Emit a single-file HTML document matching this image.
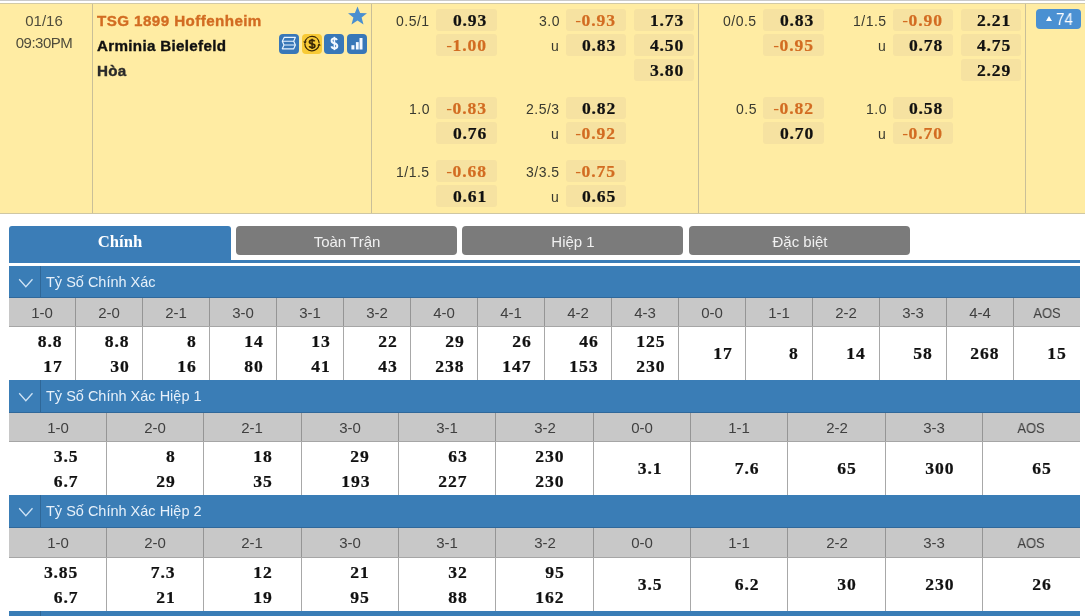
<!DOCTYPE html>
<html><head><meta charset="utf-8"><style>
html,body{margin:0;padding:0;}
body{width:1085px;height:616px;overflow:hidden;position:relative;background:#fff;font-family:"Liberation Sans", sans-serif;}
body>div,body>svg{position:absolute;white-space:nowrap;}
body>div{will-change:transform;}
</style></head><body>
<div style="left:0px;top:0px;width:1085px;height:1px;background:#c9c9c9;"></div>
<div style="left:0px;top:1px;width:1085px;height:2px;background:#ffffff;"></div>
<div style="left:0px;top:3px;width:1085px;height:1px;background:#d2caa6;"></div>
<div style="left:0px;top:4px;width:1085px;height:209px;background:#ffeca3;"></div>
<div style="left:0px;top:213px;width:1085px;height:1px;background:#cfc7a3;"></div>
<div style="left:92px;top:4px;width:1px;height:209px;background:#c9bf98;"></div>
<div style="left:371px;top:4px;width:1px;height:209px;background:#c9bf98;"></div>
<div style="left:698px;top:4px;width:1px;height:209px;background:#c9bf98;"></div>
<div style="left:1025px;top:4px;width:1px;height:209px;background:#c9bf98;"></div>
<div style="top:13.00px;font-size:15px;line-height:15px;color:#4f4c3c;left:-455.80px;width:1000px;text-align:center;">01/16</div>
<div style="top:35.10px;font-size:15px;line-height:15px;color:#4f4c3c;letter-spacing:-0.5px;left:-456.25px;width:1000px;text-align:center;">09:30PM</div>
<div style="top:14.24px;font-size:14.6px;line-height:14.6px;color:#d26c22;font-weight:bold;letter-spacing:0.4px;-webkit-text-stroke:0.35px #d26c22;left:97px;transform:scale(1.04,1);transform-origin:left 12.36px;">TSG 1899 Hoffenheim</div>
<div style="top:39.14px;font-size:14.6px;line-height:14.6px;color:#111;font-weight:bold;letter-spacing:0.3px;-webkit-text-stroke:0.35px #111;left:97px;transform:scale(1.04,1);transform-origin:left 12.36px;">Arminia Bielefeld</div>
<div style="top:64.04px;font-size:14.6px;line-height:14.6px;color:#2a2a2a;font-weight:bold;letter-spacing:0.3px;-webkit-text-stroke:0.35px #2a2a2a;left:97px;transform:scale(1.04,1);transform-origin:left 12.36px;">Hòa</div>
<svg style="left:347px;top:6px" width="21" height="20" viewBox="0 0 21 20"><path d="M10.5 0.6 L13.1 7.0 L20.0 7.3 L14.6 11.6 L16.5 18.4 L10.5 14.5 L4.5 18.4 L6.4 11.6 L1.0 7.3 L7.9 7.0 Z" fill="#4a8fd0"/></svg>
<svg style="left:279px;top:34px" width="20" height="20" viewBox="0 0 20 20"><rect x="0" y="0" width="20" height="20" rx="4" fill="#3877b8"/><path d="M5.3 3.3 H16.4 L14.7 7.2 H3.3 Z M3.3 7.2 L5.0 11 H16.4 L14.7 7.2 M5.0 11 L3.3 14.8 H14.7 L16.4 11" fill="none" stroke="#e8f4ff" stroke-width="1.15" stroke-linejoin="round"/></svg>
<svg style="left:301.5px;top:34px" width="20" height="20" viewBox="0 0 20 20"><rect x="0" y="0" width="20" height="20" rx="4" fill="#f8ca36"/><path d="M2.96 8.1 A7.2 7.2 0 0 1 17.16 8.85" fill="none" stroke="#3a2706" stroke-width="1.25"/><path d="M17.07 10.97 A7.2 7.2 0 0 1 2.8 9.85" fill="none" stroke="#3a2706" stroke-width="1.25"/><path d="M1.2 7.5 L4.8 7.5 L3.0 9.9 Z" fill="#3a2706"/><path d="M15.3 11.6 L18.9 11.6 L17.1 9.2 Z" fill="#3a2706"/><path d="M12.7 7.4 C12.2 6.5 11.3 6.1 10.1 6.1 C8.5 6.1 7.5 6.9 7.5 8.1 C7.5 9.3 8.7 9.6 10.1 9.9 C11.6 10.2 12.8 10.7 12.8 11.9 C12.8 13.0 11.7 13.7 10.1 13.7 C8.7 13.7 7.7 13.1 7.3 12.1" fill="none" stroke="#3a2706" stroke-width="1.8"/><path d="M10.1 4.7 V15.0" stroke="#3a2706" stroke-width="1.5"/></svg>
<svg style="left:324px;top:34px" width="20" height="20" viewBox="0 0 20 20"><rect x="0" y="0" width="20" height="20" rx="4" fill="#3877b8"/><path d="M13.0 6.0 C12.5 4.9 11.5 4.4 10.3 4.4 C8.7 4.4 7.6 5.3 7.6 6.8 C7.6 8.4 8.9 8.9 10.4 9.3 C11.9 9.7 13.3 10.2 13.3 12.0 C13.3 13.5 12.1 14.4 10.4 14.4 C8.9 14.4 7.8 13.7 7.3 12.4" fill="none" stroke="#f2f8ff" stroke-width="2.0"/><path d="M10.4 2.8 V16.1" stroke="#f2f8ff" stroke-width="1.6"/></svg>
<svg style="left:347px;top:34px" width="20" height="20" viewBox="0 0 20 20"><rect x="0" y="0" width="20" height="20" rx="4" fill="#3877b8"/><rect x="4.4" y="11.2" width="3" height="4.3" fill="#f4f8ff"/><rect x="8.9" y="8.1" width="2.8" height="7.4" fill="#f4f8ff"/><rect x="12.5" y="4.0" width="3" height="11.5" fill="#f4f8ff"/></svg>
<div style="top:13.95px;font-size:14px;line-height:14px;color:#3a3a30;letter-spacing:0.5px;right:655.50px;text-align:right;">0.5/1</div>
<div style="left:436px;top:9px;width:61px;height:22px;background:#f6e2a1;border-radius:3px;"></div>
<div style="top:13.47px;font-size:16px;line-height:16px;color:#111;font-family:'Liberation Serif',serif;font-weight:bold;letter-spacing:0.8px;-webkit-text-stroke:0.2px #111;right:598.20px;text-align:right;transform:scale(1.1,1);transform-origin:right 13.53px;">0.93</div>
<div style="top:13.95px;font-size:14px;line-height:14px;color:#3a3a30;letter-spacing:0.5px;right:525.50px;text-align:right;">3.0</div>
<div style="left:566px;top:9px;width:60px;height:22px;background:#f6e2a1;border-radius:3px;"></div>
<div style="top:13.47px;font-size:16px;line-height:16px;color:#d26c22;font-family:'Liberation Serif',serif;font-weight:bold;letter-spacing:0.8px;-webkit-text-stroke:0.2px #d26c22;right:469.20px;text-align:right;transform:scale(1.1,1);transform-origin:right 13.53px;"><span style="font-weight:normal;-webkit-text-stroke:0;letter-spacing:0.3px">-</span>0.93</div>
<div style="left:634px;top:9px;width:60px;height:22px;background:#f6e2a1;border-radius:3px;"></div>
<div style="top:13.47px;font-size:16px;line-height:16px;color:#111;font-family:'Liberation Serif',serif;font-weight:bold;letter-spacing:0.8px;-webkit-text-stroke:0.2px #111;right:401.20px;text-align:right;transform:scale(1.1,1);transform-origin:right 13.53px;">1.73</div>
<div style="top:13.95px;font-size:14px;line-height:14px;color:#3a3a30;letter-spacing:0.5px;right:328.50px;text-align:right;">0/0.5</div>
<div style="left:763px;top:9px;width:61px;height:22px;background:#f6e2a1;border-radius:3px;"></div>
<div style="top:13.47px;font-size:16px;line-height:16px;color:#111;font-family:'Liberation Serif',serif;font-weight:bold;letter-spacing:0.8px;-webkit-text-stroke:0.2px #111;right:271.20px;text-align:right;transform:scale(1.1,1);transform-origin:right 13.53px;">0.83</div>
<div style="top:13.95px;font-size:14px;line-height:14px;color:#3a3a30;letter-spacing:0.5px;right:198.50px;text-align:right;">1/1.5</div>
<div style="left:893px;top:9px;width:60px;height:22px;background:#f6e2a1;border-radius:3px;"></div>
<div style="top:13.47px;font-size:16px;line-height:16px;color:#d26c22;font-family:'Liberation Serif',serif;font-weight:bold;letter-spacing:0.8px;-webkit-text-stroke:0.2px #d26c22;right:142.20px;text-align:right;transform:scale(1.1,1);transform-origin:right 13.53px;"><span style="font-weight:normal;-webkit-text-stroke:0;letter-spacing:0.3px">-</span>0.90</div>
<div style="left:961px;top:9px;width:60px;height:22px;background:#f6e2a1;border-radius:3px;"></div>
<div style="top:13.47px;font-size:16px;line-height:16px;color:#111;font-family:'Liberation Serif',serif;font-weight:bold;letter-spacing:0.8px;-webkit-text-stroke:0.2px #111;right:74.20px;text-align:right;transform:scale(1.1,1);transform-origin:right 13.53px;">2.21</div>
<div style="left:436px;top:34px;width:61px;height:22px;background:#f6e2a1;border-radius:3px;"></div>
<div style="top:38.47px;font-size:16px;line-height:16px;color:#d26c22;font-family:'Liberation Serif',serif;font-weight:bold;letter-spacing:0.8px;-webkit-text-stroke:0.2px #d26c22;right:598.20px;text-align:right;transform:scale(1.1,1);transform-origin:right 13.53px;"><span style="font-weight:normal;-webkit-text-stroke:0;letter-spacing:0.3px">-</span>1.00</div>
<div style="top:38.95px;font-size:14px;line-height:14px;color:#3a3a30;letter-spacing:0.5px;right:525.50px;text-align:right;">u</div>
<div style="left:566px;top:34px;width:60px;height:22px;background:#f6e2a1;border-radius:3px;"></div>
<div style="top:38.47px;font-size:16px;line-height:16px;color:#111;font-family:'Liberation Serif',serif;font-weight:bold;letter-spacing:0.8px;-webkit-text-stroke:0.2px #111;right:469.20px;text-align:right;transform:scale(1.1,1);transform-origin:right 13.53px;">0.83</div>
<div style="left:634px;top:34px;width:60px;height:22px;background:#f6e2a1;border-radius:3px;"></div>
<div style="top:38.47px;font-size:16px;line-height:16px;color:#111;font-family:'Liberation Serif',serif;font-weight:bold;letter-spacing:0.8px;-webkit-text-stroke:0.2px #111;right:401.20px;text-align:right;transform:scale(1.1,1);transform-origin:right 13.53px;">4.50</div>
<div style="left:763px;top:34px;width:61px;height:22px;background:#f6e2a1;border-radius:3px;"></div>
<div style="top:38.47px;font-size:16px;line-height:16px;color:#d26c22;font-family:'Liberation Serif',serif;font-weight:bold;letter-spacing:0.8px;-webkit-text-stroke:0.2px #d26c22;right:271.20px;text-align:right;transform:scale(1.1,1);transform-origin:right 13.53px;"><span style="font-weight:normal;-webkit-text-stroke:0;letter-spacing:0.3px">-</span>0.95</div>
<div style="top:38.95px;font-size:14px;line-height:14px;color:#3a3a30;letter-spacing:0.5px;right:198.50px;text-align:right;">u</div>
<div style="left:893px;top:34px;width:60px;height:22px;background:#f6e2a1;border-radius:3px;"></div>
<div style="top:38.47px;font-size:16px;line-height:16px;color:#111;font-family:'Liberation Serif',serif;font-weight:bold;letter-spacing:0.8px;-webkit-text-stroke:0.2px #111;right:142.20px;text-align:right;transform:scale(1.1,1);transform-origin:right 13.53px;">0.78</div>
<div style="left:961px;top:34px;width:60px;height:22px;background:#f6e2a1;border-radius:3px;"></div>
<div style="top:38.47px;font-size:16px;line-height:16px;color:#111;font-family:'Liberation Serif',serif;font-weight:bold;letter-spacing:0.8px;-webkit-text-stroke:0.2px #111;right:74.20px;text-align:right;transform:scale(1.1,1);transform-origin:right 13.53px;">4.75</div>
<div style="left:634px;top:59px;width:60px;height:22px;background:#f6e2a1;border-radius:3px;"></div>
<div style="top:63.47px;font-size:16px;line-height:16px;color:#111;font-family:'Liberation Serif',serif;font-weight:bold;letter-spacing:0.8px;-webkit-text-stroke:0.2px #111;right:401.20px;text-align:right;transform:scale(1.1,1);transform-origin:right 13.53px;">3.80</div>
<div style="left:961px;top:59px;width:60px;height:22px;background:#f6e2a1;border-radius:3px;"></div>
<div style="top:63.47px;font-size:16px;line-height:16px;color:#111;font-family:'Liberation Serif',serif;font-weight:bold;letter-spacing:0.8px;-webkit-text-stroke:0.2px #111;right:74.20px;text-align:right;transform:scale(1.1,1);transform-origin:right 13.53px;">2.29</div>
<div style="top:101.95px;font-size:14px;line-height:14px;color:#3a3a30;letter-spacing:0.5px;right:655.50px;text-align:right;">1.0</div>
<div style="left:436px;top:97px;width:61px;height:22px;background:#f6e2a1;border-radius:3px;"></div>
<div style="top:101.47px;font-size:16px;line-height:16px;color:#d26c22;font-family:'Liberation Serif',serif;font-weight:bold;letter-spacing:0.8px;-webkit-text-stroke:0.2px #d26c22;right:598.20px;text-align:right;transform:scale(1.1,1);transform-origin:right 13.53px;"><span style="font-weight:normal;-webkit-text-stroke:0;letter-spacing:0.3px">-</span>0.83</div>
<div style="top:101.95px;font-size:14px;line-height:14px;color:#3a3a30;letter-spacing:0.5px;right:525.50px;text-align:right;">2.5/3</div>
<div style="left:566px;top:97px;width:60px;height:22px;background:#f6e2a1;border-radius:3px;"></div>
<div style="top:101.47px;font-size:16px;line-height:16px;color:#111;font-family:'Liberation Serif',serif;font-weight:bold;letter-spacing:0.8px;-webkit-text-stroke:0.2px #111;right:469.20px;text-align:right;transform:scale(1.1,1);transform-origin:right 13.53px;">0.82</div>
<div style="top:101.95px;font-size:14px;line-height:14px;color:#3a3a30;letter-spacing:0.5px;right:328.50px;text-align:right;">0.5</div>
<div style="left:763px;top:97px;width:61px;height:22px;background:#f6e2a1;border-radius:3px;"></div>
<div style="top:101.47px;font-size:16px;line-height:16px;color:#d26c22;font-family:'Liberation Serif',serif;font-weight:bold;letter-spacing:0.8px;-webkit-text-stroke:0.2px #d26c22;right:271.20px;text-align:right;transform:scale(1.1,1);transform-origin:right 13.53px;"><span style="font-weight:normal;-webkit-text-stroke:0;letter-spacing:0.3px">-</span>0.82</div>
<div style="top:101.95px;font-size:14px;line-height:14px;color:#3a3a30;letter-spacing:0.5px;right:198.50px;text-align:right;">1.0</div>
<div style="left:893px;top:97px;width:60px;height:22px;background:#f6e2a1;border-radius:3px;"></div>
<div style="top:101.47px;font-size:16px;line-height:16px;color:#111;font-family:'Liberation Serif',serif;font-weight:bold;letter-spacing:0.8px;-webkit-text-stroke:0.2px #111;right:142.20px;text-align:right;transform:scale(1.1,1);transform-origin:right 13.53px;">0.58</div>
<div style="left:436px;top:122px;width:61px;height:22px;background:#f6e2a1;border-radius:3px;"></div>
<div style="top:126.47px;font-size:16px;line-height:16px;color:#111;font-family:'Liberation Serif',serif;font-weight:bold;letter-spacing:0.8px;-webkit-text-stroke:0.2px #111;right:598.20px;text-align:right;transform:scale(1.1,1);transform-origin:right 13.53px;">0.76</div>
<div style="top:126.95px;font-size:14px;line-height:14px;color:#3a3a30;letter-spacing:0.5px;right:525.50px;text-align:right;">u</div>
<div style="left:566px;top:122px;width:60px;height:22px;background:#f6e2a1;border-radius:3px;"></div>
<div style="top:126.47px;font-size:16px;line-height:16px;color:#d26c22;font-family:'Liberation Serif',serif;font-weight:bold;letter-spacing:0.8px;-webkit-text-stroke:0.2px #d26c22;right:469.20px;text-align:right;transform:scale(1.1,1);transform-origin:right 13.53px;"><span style="font-weight:normal;-webkit-text-stroke:0;letter-spacing:0.3px">-</span>0.92</div>
<div style="left:763px;top:122px;width:61px;height:22px;background:#f6e2a1;border-radius:3px;"></div>
<div style="top:126.47px;font-size:16px;line-height:16px;color:#111;font-family:'Liberation Serif',serif;font-weight:bold;letter-spacing:0.8px;-webkit-text-stroke:0.2px #111;right:271.20px;text-align:right;transform:scale(1.1,1);transform-origin:right 13.53px;">0.70</div>
<div style="top:126.95px;font-size:14px;line-height:14px;color:#3a3a30;letter-spacing:0.5px;right:198.50px;text-align:right;">u</div>
<div style="left:893px;top:122px;width:60px;height:22px;background:#f6e2a1;border-radius:3px;"></div>
<div style="top:126.47px;font-size:16px;line-height:16px;color:#d26c22;font-family:'Liberation Serif',serif;font-weight:bold;letter-spacing:0.8px;-webkit-text-stroke:0.2px #d26c22;right:142.20px;text-align:right;transform:scale(1.1,1);transform-origin:right 13.53px;"><span style="font-weight:normal;-webkit-text-stroke:0;letter-spacing:0.3px">-</span>0.70</div>
<div style="top:164.95px;font-size:14px;line-height:14px;color:#3a3a30;letter-spacing:0.5px;right:655.50px;text-align:right;">1/1.5</div>
<div style="left:436px;top:160px;width:61px;height:22px;background:#f6e2a1;border-radius:3px;"></div>
<div style="top:164.47px;font-size:16px;line-height:16px;color:#d26c22;font-family:'Liberation Serif',serif;font-weight:bold;letter-spacing:0.8px;-webkit-text-stroke:0.2px #d26c22;right:598.20px;text-align:right;transform:scale(1.1,1);transform-origin:right 13.53px;"><span style="font-weight:normal;-webkit-text-stroke:0;letter-spacing:0.3px">-</span>0.68</div>
<div style="top:164.95px;font-size:14px;line-height:14px;color:#3a3a30;letter-spacing:0.5px;right:525.50px;text-align:right;">3/3.5</div>
<div style="left:566px;top:160px;width:60px;height:22px;background:#f6e2a1;border-radius:3px;"></div>
<div style="top:164.47px;font-size:16px;line-height:16px;color:#d26c22;font-family:'Liberation Serif',serif;font-weight:bold;letter-spacing:0.8px;-webkit-text-stroke:0.2px #d26c22;right:469.20px;text-align:right;transform:scale(1.1,1);transform-origin:right 13.53px;"><span style="font-weight:normal;-webkit-text-stroke:0;letter-spacing:0.3px">-</span>0.75</div>
<div style="left:436px;top:185px;width:61px;height:22px;background:#f6e2a1;border-radius:3px;"></div>
<div style="top:189.47px;font-size:16px;line-height:16px;color:#111;font-family:'Liberation Serif',serif;font-weight:bold;letter-spacing:0.8px;-webkit-text-stroke:0.2px #111;right:598.20px;text-align:right;transform:scale(1.1,1);transform-origin:right 13.53px;">0.61</div>
<div style="top:189.95px;font-size:14px;line-height:14px;color:#3a3a30;letter-spacing:0.5px;right:525.50px;text-align:right;">u</div>
<div style="left:566px;top:185px;width:60px;height:22px;background:#f6e2a1;border-radius:3px;"></div>
<div style="top:189.47px;font-size:16px;line-height:16px;color:#111;font-family:'Liberation Serif',serif;font-weight:bold;letter-spacing:0.8px;-webkit-text-stroke:0.2px #111;right:469.20px;text-align:right;transform:scale(1.1,1);transform-origin:right 13.53px;">0.65</div>
<div style="left:1036px;top:9px;width:45px;height:20px;background:#4a90d2;border-radius:4px;"></div>
<svg style="left:1046px;top:16px" width="6" height="5" viewBox="0 0 6 5"><path d="M3 0 L6 5 L0 5 Z" fill="#fff"/></svg>
<div style="top:11.99px;font-size:15.6px;line-height:15.6px;color:#fff;left:1056.2px;transform:scale(0.97,1);transform-origin:left 13.21px;">74</div>
<div style="left:9px;top:226px;width:222px;height:37px;background:#3b7db7;border-radius:3px 3px 0 0;"></div>
<div style="left:9px;top:260px;width:1071px;height:3px;background:#3b7db7;"></div>
<div style="left:236px;top:226px;width:221px;height:29px;background:#7b7b7b;border-radius:4px;"></div>
<div style="top:234.30px;font-size:15px;line-height:15px;color:#f0f0f0;left:-153.50px;width:1000px;text-align:center;">Toàn Trận</div>
<div style="left:462px;top:226px;width:221px;height:29px;background:#7b7b7b;border-radius:4px;"></div>
<div style="top:234.30px;font-size:15px;line-height:15px;color:#f0f0f0;left:72.50px;width:1000px;text-align:center;">Hiệp 1</div>
<div style="left:689px;top:226px;width:221px;height:29px;background:#7b7b7b;border-radius:4px;"></div>
<div style="top:234.30px;font-size:15px;line-height:15px;color:#f0f0f0;left:299.50px;width:1000px;text-align:center;">Đặc biệt</div>
<div style="top:234.47px;font-size:16px;line-height:16px;color:#ffffff;font-family:'Liberation Serif',serif;font-weight:bold;left:-379.80px;width:1000px;text-align:center;transform:scale(1.04,1);transform-origin:center 13.53px;">Chính</div>
<div style="left:9px;top:266px;width:1071px;height:32px;background:#3a7db6;"></div>
<div style="left:9px;top:297px;width:1071px;height:1px;background:#30689a;"></div>
<div style="left:40px;top:266px;width:1px;height:31px;background:#2f6797;"></div>
<svg style="left:18px;top:277.80px" width="16" height="10" viewBox="0 0 16 10"><path d="M1.2 1.2 L7.85 8.7 L14.5 1.2" fill="none" stroke="#cfe3f5" stroke-width="1.3"/></svg>
<div style="top:275.03px;font-size:14.5px;line-height:14.5px;color:#e6f0fa;left:46px;">Tỷ Số Chính Xác</div>
<div style="left:9px;top:298px;width:1071px;height:28px;background:#c8c8c8;"></div>
<div style="left:9px;top:326px;width:1071px;height:54px;background:#ffffff;"></div>
<div style="left:9px;top:326px;width:1071px;height:1px;background:#a6a6a6;"></div>
<div style="left:75px;top:298px;width:1px;height:28px;background:#959595;"></div>
<div style="left:75px;top:326px;width:1px;height:54px;background:#a8a8a8;"></div>
<div style="left:142px;top:298px;width:1px;height:28px;background:#959595;"></div>
<div style="left:142px;top:326px;width:1px;height:54px;background:#a8a8a8;"></div>
<div style="left:209px;top:298px;width:1px;height:28px;background:#959595;"></div>
<div style="left:209px;top:326px;width:1px;height:54px;background:#a8a8a8;"></div>
<div style="left:276px;top:298px;width:1px;height:28px;background:#959595;"></div>
<div style="left:276px;top:326px;width:1px;height:54px;background:#a8a8a8;"></div>
<div style="left:343px;top:298px;width:1px;height:28px;background:#959595;"></div>
<div style="left:343px;top:326px;width:1px;height:54px;background:#a8a8a8;"></div>
<div style="left:410px;top:298px;width:1px;height:28px;background:#959595;"></div>
<div style="left:410px;top:326px;width:1px;height:54px;background:#a8a8a8;"></div>
<div style="left:477px;top:298px;width:1px;height:28px;background:#959595;"></div>
<div style="left:477px;top:326px;width:1px;height:54px;background:#a8a8a8;"></div>
<div style="left:544px;top:298px;width:1px;height:28px;background:#959595;"></div>
<div style="left:544px;top:326px;width:1px;height:54px;background:#a8a8a8;"></div>
<div style="left:611px;top:298px;width:1px;height:28px;background:#959595;"></div>
<div style="left:611px;top:326px;width:1px;height:54px;background:#a8a8a8;"></div>
<div style="left:678px;top:298px;width:1px;height:28px;background:#959595;"></div>
<div style="left:678px;top:326px;width:1px;height:54px;background:#a8a8a8;"></div>
<div style="left:745px;top:298px;width:1px;height:28px;background:#959595;"></div>
<div style="left:745px;top:326px;width:1px;height:54px;background:#a8a8a8;"></div>
<div style="left:812px;top:298px;width:1px;height:28px;background:#959595;"></div>
<div style="left:812px;top:326px;width:1px;height:54px;background:#a8a8a8;"></div>
<div style="left:879px;top:298px;width:1px;height:28px;background:#959595;"></div>
<div style="left:879px;top:326px;width:1px;height:54px;background:#a8a8a8;"></div>
<div style="left:946px;top:298px;width:1px;height:28px;background:#959595;"></div>
<div style="left:946px;top:326px;width:1px;height:54px;background:#a8a8a8;"></div>
<div style="left:1013px;top:298px;width:1px;height:28px;background:#959595;"></div>
<div style="left:1013px;top:326px;width:1px;height:54px;background:#a8a8a8;"></div>
<div style="top:305.30px;font-size:15px;line-height:15px;color:#404040;left:-457.53px;width:1000px;text-align:center;">1-0</div>
<div style="top:333.87px;font-size:16px;line-height:16px;color:#111;font-family:'Liberation Serif',serif;font-weight:bold;letter-spacing:0.8px;-webkit-text-stroke:0.2px #111;right:1022.23px;text-align:right;transform:scale(1.1,1);transform-origin:right 13.53px;">8.8</div>
<div style="top:358.67px;font-size:16px;line-height:16px;color:#111;font-family:'Liberation Serif',serif;font-weight:bold;letter-spacing:0.8px;-webkit-text-stroke:0.2px #111;right:1022.23px;text-align:right;transform:scale(1.1,1);transform-origin:right 13.53px;">17</div>
<div style="top:305.30px;font-size:15px;line-height:15px;color:#404040;left:-390.59px;width:1000px;text-align:center;">2-0</div>
<div style="top:333.87px;font-size:16px;line-height:16px;color:#111;font-family:'Liberation Serif',serif;font-weight:bold;letter-spacing:0.8px;-webkit-text-stroke:0.2px #111;right:955.29px;text-align:right;transform:scale(1.1,1);transform-origin:right 13.53px;">8.8</div>
<div style="top:358.67px;font-size:16px;line-height:16px;color:#111;font-family:'Liberation Serif',serif;font-weight:bold;letter-spacing:0.8px;-webkit-text-stroke:0.2px #111;right:955.29px;text-align:right;transform:scale(1.1,1);transform-origin:right 13.53px;">30</div>
<div style="top:305.30px;font-size:15px;line-height:15px;color:#404040;left:-323.66px;width:1000px;text-align:center;">2-1</div>
<div style="top:333.87px;font-size:16px;line-height:16px;color:#111;font-family:'Liberation Serif',serif;font-weight:bold;letter-spacing:0.8px;-webkit-text-stroke:0.2px #111;right:888.36px;text-align:right;transform:scale(1.1,1);transform-origin:right 13.53px;">8</div>
<div style="top:358.67px;font-size:16px;line-height:16px;color:#111;font-family:'Liberation Serif',serif;font-weight:bold;letter-spacing:0.8px;-webkit-text-stroke:0.2px #111;right:888.36px;text-align:right;transform:scale(1.1,1);transform-origin:right 13.53px;">16</div>
<div style="top:305.30px;font-size:15px;line-height:15px;color:#404040;left:-256.72px;width:1000px;text-align:center;">3-0</div>
<div style="top:333.87px;font-size:16px;line-height:16px;color:#111;font-family:'Liberation Serif',serif;font-weight:bold;letter-spacing:0.8px;-webkit-text-stroke:0.2px #111;right:821.42px;text-align:right;transform:scale(1.1,1);transform-origin:right 13.53px;">14</div>
<div style="top:358.67px;font-size:16px;line-height:16px;color:#111;font-family:'Liberation Serif',serif;font-weight:bold;letter-spacing:0.8px;-webkit-text-stroke:0.2px #111;right:821.42px;text-align:right;transform:scale(1.1,1);transform-origin:right 13.53px;">80</div>
<div style="top:305.30px;font-size:15px;line-height:15px;color:#404040;left:-189.78px;width:1000px;text-align:center;">3-1</div>
<div style="top:333.87px;font-size:16px;line-height:16px;color:#111;font-family:'Liberation Serif',serif;font-weight:bold;letter-spacing:0.8px;-webkit-text-stroke:0.2px #111;right:754.48px;text-align:right;transform:scale(1.1,1);transform-origin:right 13.53px;">13</div>
<div style="top:358.67px;font-size:16px;line-height:16px;color:#111;font-family:'Liberation Serif',serif;font-weight:bold;letter-spacing:0.8px;-webkit-text-stroke:0.2px #111;right:754.48px;text-align:right;transform:scale(1.1,1);transform-origin:right 13.53px;">41</div>
<div style="top:305.30px;font-size:15px;line-height:15px;color:#404040;left:-122.84px;width:1000px;text-align:center;">3-2</div>
<div style="top:333.87px;font-size:16px;line-height:16px;color:#111;font-family:'Liberation Serif',serif;font-weight:bold;letter-spacing:0.8px;-webkit-text-stroke:0.2px #111;right:687.54px;text-align:right;transform:scale(1.1,1);transform-origin:right 13.53px;">22</div>
<div style="top:358.67px;font-size:16px;line-height:16px;color:#111;font-family:'Liberation Serif',serif;font-weight:bold;letter-spacing:0.8px;-webkit-text-stroke:0.2px #111;right:687.54px;text-align:right;transform:scale(1.1,1);transform-origin:right 13.53px;">43</div>
<div style="top:305.30px;font-size:15px;line-height:15px;color:#404040;left:-55.91px;width:1000px;text-align:center;">4-0</div>
<div style="top:333.87px;font-size:16px;line-height:16px;color:#111;font-family:'Liberation Serif',serif;font-weight:bold;letter-spacing:0.8px;-webkit-text-stroke:0.2px #111;right:620.61px;text-align:right;transform:scale(1.1,1);transform-origin:right 13.53px;">29</div>
<div style="top:358.67px;font-size:16px;line-height:16px;color:#111;font-family:'Liberation Serif',serif;font-weight:bold;letter-spacing:0.8px;-webkit-text-stroke:0.2px #111;right:620.61px;text-align:right;transform:scale(1.1,1);transform-origin:right 13.53px;">238</div>
<div style="top:305.30px;font-size:15px;line-height:15px;color:#404040;left:11.03px;width:1000px;text-align:center;">4-1</div>
<div style="top:333.87px;font-size:16px;line-height:16px;color:#111;font-family:'Liberation Serif',serif;font-weight:bold;letter-spacing:0.8px;-webkit-text-stroke:0.2px #111;right:553.67px;text-align:right;transform:scale(1.1,1);transform-origin:right 13.53px;">26</div>
<div style="top:358.67px;font-size:16px;line-height:16px;color:#111;font-family:'Liberation Serif',serif;font-weight:bold;letter-spacing:0.8px;-webkit-text-stroke:0.2px #111;right:553.67px;text-align:right;transform:scale(1.1,1);transform-origin:right 13.53px;">147</div>
<div style="top:305.30px;font-size:15px;line-height:15px;color:#404040;left:77.97px;width:1000px;text-align:center;">4-2</div>
<div style="top:333.87px;font-size:16px;line-height:16px;color:#111;font-family:'Liberation Serif',serif;font-weight:bold;letter-spacing:0.8px;-webkit-text-stroke:0.2px #111;right:486.73px;text-align:right;transform:scale(1.1,1);transform-origin:right 13.53px;">46</div>
<div style="top:358.67px;font-size:16px;line-height:16px;color:#111;font-family:'Liberation Serif',serif;font-weight:bold;letter-spacing:0.8px;-webkit-text-stroke:0.2px #111;right:486.73px;text-align:right;transform:scale(1.1,1);transform-origin:right 13.53px;">153</div>
<div style="top:305.30px;font-size:15px;line-height:15px;color:#404040;left:144.91px;width:1000px;text-align:center;">4-3</div>
<div style="top:333.87px;font-size:16px;line-height:16px;color:#111;font-family:'Liberation Serif',serif;font-weight:bold;letter-spacing:0.8px;-webkit-text-stroke:0.2px #111;right:419.79px;text-align:right;transform:scale(1.1,1);transform-origin:right 13.53px;">125</div>
<div style="top:358.67px;font-size:16px;line-height:16px;color:#111;font-family:'Liberation Serif',serif;font-weight:bold;letter-spacing:0.8px;-webkit-text-stroke:0.2px #111;right:419.79px;text-align:right;transform:scale(1.1,1);transform-origin:right 13.53px;">230</div>
<div style="top:305.30px;font-size:15px;line-height:15px;color:#404040;left:211.84px;width:1000px;text-align:center;">0-0</div>
<div style="top:346.07px;font-size:16px;line-height:16px;color:#111;font-family:'Liberation Serif',serif;font-weight:bold;letter-spacing:0.8px;-webkit-text-stroke:0.2px #111;right:352.86px;text-align:right;transform:scale(1.1,1);transform-origin:right 13.53px;">17</div>
<div style="top:305.30px;font-size:15px;line-height:15px;color:#404040;left:278.78px;width:1000px;text-align:center;">1-1</div>
<div style="top:346.07px;font-size:16px;line-height:16px;color:#111;font-family:'Liberation Serif',serif;font-weight:bold;letter-spacing:0.8px;-webkit-text-stroke:0.2px #111;right:285.92px;text-align:right;transform:scale(1.1,1);transform-origin:right 13.53px;">8</div>
<div style="top:305.30px;font-size:15px;line-height:15px;color:#404040;left:345.72px;width:1000px;text-align:center;">2-2</div>
<div style="top:346.07px;font-size:16px;line-height:16px;color:#111;font-family:'Liberation Serif',serif;font-weight:bold;letter-spacing:0.8px;-webkit-text-stroke:0.2px #111;right:218.98px;text-align:right;transform:scale(1.1,1);transform-origin:right 13.53px;">14</div>
<div style="top:305.30px;font-size:15px;line-height:15px;color:#404040;left:412.66px;width:1000px;text-align:center;">3-3</div>
<div style="top:346.07px;font-size:16px;line-height:16px;color:#111;font-family:'Liberation Serif',serif;font-weight:bold;letter-spacing:0.8px;-webkit-text-stroke:0.2px #111;right:152.04px;text-align:right;transform:scale(1.1,1);transform-origin:right 13.53px;">58</div>
<div style="top:305.30px;font-size:15px;line-height:15px;color:#404040;left:479.59px;width:1000px;text-align:center;">4-4</div>
<div style="top:346.07px;font-size:16px;line-height:16px;color:#111;font-family:'Liberation Serif',serif;font-weight:bold;letter-spacing:0.8px;-webkit-text-stroke:0.2px #111;right:85.11px;text-align:right;transform:scale(1.1,1);transform-origin:right 13.53px;">268</div>
<div style="top:305.30px;font-size:15px;line-height:15px;color:#404040;left:546.53px;width:1000px;text-align:center;transform:scale(0.87,1);transform-origin:center 12.70px;">AOS</div>
<div style="top:346.07px;font-size:16px;line-height:16px;color:#111;font-family:'Liberation Serif',serif;font-weight:bold;letter-spacing:0.8px;-webkit-text-stroke:0.2px #111;right:18.17px;text-align:right;transform:scale(1.1,1);transform-origin:right 13.53px;">15</div>
<div style="left:9px;top:380px;width:1071px;height:33px;background:#3a7db6;"></div>
<div style="left:9px;top:412px;width:1071px;height:1px;background:#30689a;"></div>
<div style="left:40px;top:380px;width:1px;height:32px;background:#2f6797;"></div>
<svg style="left:18px;top:392.30px" width="16" height="10" viewBox="0 0 16 10"><path d="M1.2 1.2 L7.85 8.7 L14.5 1.2" fill="none" stroke="#cfe3f5" stroke-width="1.3"/></svg>
<div style="top:389.03px;font-size:14.5px;line-height:14.5px;color:#e6f0fa;left:46px;">Tỷ Số Chính Xác Hiệp 1</div>
<div style="left:9px;top:413px;width:1071px;height:28px;background:#c8c8c8;"></div>
<div style="left:9px;top:441px;width:1071px;height:54px;background:#ffffff;"></div>
<div style="left:9px;top:441px;width:1071px;height:1px;background:#a6a6a6;"></div>
<div style="left:106px;top:413px;width:1px;height:28px;background:#959595;"></div>
<div style="left:106px;top:441px;width:1px;height:54px;background:#a8a8a8;"></div>
<div style="left:203px;top:413px;width:1px;height:28px;background:#959595;"></div>
<div style="left:203px;top:441px;width:1px;height:54px;background:#a8a8a8;"></div>
<div style="left:301px;top:413px;width:1px;height:28px;background:#959595;"></div>
<div style="left:301px;top:441px;width:1px;height:54px;background:#a8a8a8;"></div>
<div style="left:398px;top:413px;width:1px;height:28px;background:#959595;"></div>
<div style="left:398px;top:441px;width:1px;height:54px;background:#a8a8a8;"></div>
<div style="left:495px;top:413px;width:1px;height:28px;background:#959595;"></div>
<div style="left:495px;top:441px;width:1px;height:54px;background:#a8a8a8;"></div>
<div style="left:593px;top:413px;width:1px;height:28px;background:#959595;"></div>
<div style="left:593px;top:441px;width:1px;height:54px;background:#a8a8a8;"></div>
<div style="left:690px;top:413px;width:1px;height:28px;background:#959595;"></div>
<div style="left:690px;top:441px;width:1px;height:54px;background:#a8a8a8;"></div>
<div style="left:787px;top:413px;width:1px;height:28px;background:#959595;"></div>
<div style="left:787px;top:441px;width:1px;height:54px;background:#a8a8a8;"></div>
<div style="left:885px;top:413px;width:1px;height:28px;background:#959595;"></div>
<div style="left:885px;top:441px;width:1px;height:54px;background:#a8a8a8;"></div>
<div style="left:982px;top:413px;width:1px;height:28px;background:#959595;"></div>
<div style="left:982px;top:441px;width:1px;height:54px;background:#a8a8a8;"></div>
<div style="top:420.30px;font-size:15px;line-height:15px;color:#404040;left:-442.32px;width:1000px;text-align:center;">1-0</div>
<div style="top:448.87px;font-size:16px;line-height:16px;color:#111;font-family:'Liberation Serif',serif;font-weight:bold;letter-spacing:0.8px;-webkit-text-stroke:0.2px #111;right:1007.02px;text-align:right;transform:scale(1.1,1);transform-origin:right 13.53px;">3.5</div>
<div style="top:473.67px;font-size:16px;line-height:16px;color:#111;font-family:'Liberation Serif',serif;font-weight:bold;letter-spacing:0.8px;-webkit-text-stroke:0.2px #111;right:1007.02px;text-align:right;transform:scale(1.1,1);transform-origin:right 13.53px;">6.7</div>
<div style="top:420.30px;font-size:15px;line-height:15px;color:#404040;left:-344.95px;width:1000px;text-align:center;">2-0</div>
<div style="top:448.87px;font-size:16px;line-height:16px;color:#111;font-family:'Liberation Serif',serif;font-weight:bold;letter-spacing:0.8px;-webkit-text-stroke:0.2px #111;right:909.65px;text-align:right;transform:scale(1.1,1);transform-origin:right 13.53px;">8</div>
<div style="top:473.67px;font-size:16px;line-height:16px;color:#111;font-family:'Liberation Serif',serif;font-weight:bold;letter-spacing:0.8px;-webkit-text-stroke:0.2px #111;right:909.65px;text-align:right;transform:scale(1.1,1);transform-origin:right 13.53px;">29</div>
<div style="top:420.30px;font-size:15px;line-height:15px;color:#404040;left:-247.59px;width:1000px;text-align:center;">2-1</div>
<div style="top:448.87px;font-size:16px;line-height:16px;color:#111;font-family:'Liberation Serif',serif;font-weight:bold;letter-spacing:0.8px;-webkit-text-stroke:0.2px #111;right:812.29px;text-align:right;transform:scale(1.1,1);transform-origin:right 13.53px;">18</div>
<div style="top:473.67px;font-size:16px;line-height:16px;color:#111;font-family:'Liberation Serif',serif;font-weight:bold;letter-spacing:0.8px;-webkit-text-stroke:0.2px #111;right:812.29px;text-align:right;transform:scale(1.1,1);transform-origin:right 13.53px;">35</div>
<div style="top:420.30px;font-size:15px;line-height:15px;color:#404040;left:-150.23px;width:1000px;text-align:center;">3-0</div>
<div style="top:448.87px;font-size:16px;line-height:16px;color:#111;font-family:'Liberation Serif',serif;font-weight:bold;letter-spacing:0.8px;-webkit-text-stroke:0.2px #111;right:714.93px;text-align:right;transform:scale(1.1,1);transform-origin:right 13.53px;">29</div>
<div style="top:473.67px;font-size:16px;line-height:16px;color:#111;font-family:'Liberation Serif',serif;font-weight:bold;letter-spacing:0.8px;-webkit-text-stroke:0.2px #111;right:714.93px;text-align:right;transform:scale(1.1,1);transform-origin:right 13.53px;">193</div>
<div style="top:420.30px;font-size:15px;line-height:15px;color:#404040;left:-52.86px;width:1000px;text-align:center;">3-1</div>
<div style="top:448.87px;font-size:16px;line-height:16px;color:#111;font-family:'Liberation Serif',serif;font-weight:bold;letter-spacing:0.8px;-webkit-text-stroke:0.2px #111;right:617.56px;text-align:right;transform:scale(1.1,1);transform-origin:right 13.53px;">63</div>
<div style="top:473.67px;font-size:16px;line-height:16px;color:#111;font-family:'Liberation Serif',serif;font-weight:bold;letter-spacing:0.8px;-webkit-text-stroke:0.2px #111;right:617.56px;text-align:right;transform:scale(1.1,1);transform-origin:right 13.53px;">227</div>
<div style="top:420.30px;font-size:15px;line-height:15px;color:#404040;left:44.50px;width:1000px;text-align:center;">3-2</div>
<div style="top:448.87px;font-size:16px;line-height:16px;color:#111;font-family:'Liberation Serif',serif;font-weight:bold;letter-spacing:0.8px;-webkit-text-stroke:0.2px #111;right:520.20px;text-align:right;transform:scale(1.1,1);transform-origin:right 13.53px;">230</div>
<div style="top:473.67px;font-size:16px;line-height:16px;color:#111;font-family:'Liberation Serif',serif;font-weight:bold;letter-spacing:0.8px;-webkit-text-stroke:0.2px #111;right:520.20px;text-align:right;transform:scale(1.1,1);transform-origin:right 13.53px;">230</div>
<div style="top:420.30px;font-size:15px;line-height:15px;color:#404040;left:141.86px;width:1000px;text-align:center;">0-0</div>
<div style="top:461.07px;font-size:16px;line-height:16px;color:#111;font-family:'Liberation Serif',serif;font-weight:bold;letter-spacing:0.8px;-webkit-text-stroke:0.2px #111;right:422.84px;text-align:right;transform:scale(1.1,1);transform-origin:right 13.53px;">3.1</div>
<div style="top:420.30px;font-size:15px;line-height:15px;color:#404040;left:239.23px;width:1000px;text-align:center;">1-1</div>
<div style="top:461.07px;font-size:16px;line-height:16px;color:#111;font-family:'Liberation Serif',serif;font-weight:bold;letter-spacing:0.8px;-webkit-text-stroke:0.2px #111;right:325.47px;text-align:right;transform:scale(1.1,1);transform-origin:right 13.53px;">7.6</div>
<div style="top:420.30px;font-size:15px;line-height:15px;color:#404040;left:336.59px;width:1000px;text-align:center;">2-2</div>
<div style="top:461.07px;font-size:16px;line-height:16px;color:#111;font-family:'Liberation Serif',serif;font-weight:bold;letter-spacing:0.8px;-webkit-text-stroke:0.2px #111;right:228.11px;text-align:right;transform:scale(1.1,1);transform-origin:right 13.53px;">65</div>
<div style="top:420.30px;font-size:15px;line-height:15px;color:#404040;left:433.95px;width:1000px;text-align:center;">3-3</div>
<div style="top:461.07px;font-size:16px;line-height:16px;color:#111;font-family:'Liberation Serif',serif;font-weight:bold;letter-spacing:0.8px;-webkit-text-stroke:0.2px #111;right:130.75px;text-align:right;transform:scale(1.1,1);transform-origin:right 13.53px;">300</div>
<div style="top:420.30px;font-size:15px;line-height:15px;color:#404040;left:531.32px;width:1000px;text-align:center;transform:scale(0.87,1);transform-origin:center 12.70px;">AOS</div>
<div style="top:461.07px;font-size:16px;line-height:16px;color:#111;font-family:'Liberation Serif',serif;font-weight:bold;letter-spacing:0.8px;-webkit-text-stroke:0.2px #111;right:33.38px;text-align:right;transform:scale(1.1,1);transform-origin:right 13.53px;">65</div>
<div style="left:9px;top:495px;width:1071px;height:33px;background:#3a7db6;"></div>
<div style="left:9px;top:527px;width:1071px;height:1px;background:#30689a;"></div>
<div style="left:40px;top:495px;width:1px;height:32px;background:#2f6797;"></div>
<svg style="left:18px;top:507.30px" width="16" height="10" viewBox="0 0 16 10"><path d="M1.2 1.2 L7.85 8.7 L14.5 1.2" fill="none" stroke="#cfe3f5" stroke-width="1.3"/></svg>
<div style="top:504.03px;font-size:14.5px;line-height:14.5px;color:#e6f0fa;left:46px;">Tỷ Số Chính Xác Hiệp 2</div>
<div style="left:9px;top:528px;width:1071px;height:29px;background:#c8c8c8;"></div>
<div style="left:9px;top:557px;width:1071px;height:54px;background:#ffffff;"></div>
<div style="left:9px;top:557px;width:1071px;height:1px;background:#a6a6a6;"></div>
<div style="left:106px;top:528px;width:1px;height:29px;background:#959595;"></div>
<div style="left:106px;top:557px;width:1px;height:54px;background:#a8a8a8;"></div>
<div style="left:203px;top:528px;width:1px;height:29px;background:#959595;"></div>
<div style="left:203px;top:557px;width:1px;height:54px;background:#a8a8a8;"></div>
<div style="left:301px;top:528px;width:1px;height:29px;background:#959595;"></div>
<div style="left:301px;top:557px;width:1px;height:54px;background:#a8a8a8;"></div>
<div style="left:398px;top:528px;width:1px;height:29px;background:#959595;"></div>
<div style="left:398px;top:557px;width:1px;height:54px;background:#a8a8a8;"></div>
<div style="left:495px;top:528px;width:1px;height:29px;background:#959595;"></div>
<div style="left:495px;top:557px;width:1px;height:54px;background:#a8a8a8;"></div>
<div style="left:593px;top:528px;width:1px;height:29px;background:#959595;"></div>
<div style="left:593px;top:557px;width:1px;height:54px;background:#a8a8a8;"></div>
<div style="left:690px;top:528px;width:1px;height:29px;background:#959595;"></div>
<div style="left:690px;top:557px;width:1px;height:54px;background:#a8a8a8;"></div>
<div style="left:787px;top:528px;width:1px;height:29px;background:#959595;"></div>
<div style="left:787px;top:557px;width:1px;height:54px;background:#a8a8a8;"></div>
<div style="left:885px;top:528px;width:1px;height:29px;background:#959595;"></div>
<div style="left:885px;top:557px;width:1px;height:54px;background:#a8a8a8;"></div>
<div style="left:982px;top:528px;width:1px;height:29px;background:#959595;"></div>
<div style="left:982px;top:557px;width:1px;height:54px;background:#a8a8a8;"></div>
<div style="top:535.30px;font-size:15px;line-height:15px;color:#404040;left:-442.32px;width:1000px;text-align:center;">1-0</div>
<div style="top:564.87px;font-size:16px;line-height:16px;color:#111;font-family:'Liberation Serif',serif;font-weight:bold;letter-spacing:0.8px;-webkit-text-stroke:0.2px #111;right:1007.02px;text-align:right;transform:scale(1.1,1);transform-origin:right 13.53px;">3.85</div>
<div style="top:589.67px;font-size:16px;line-height:16px;color:#111;font-family:'Liberation Serif',serif;font-weight:bold;letter-spacing:0.8px;-webkit-text-stroke:0.2px #111;right:1007.02px;text-align:right;transform:scale(1.1,1);transform-origin:right 13.53px;">6.7</div>
<div style="top:535.30px;font-size:15px;line-height:15px;color:#404040;left:-344.95px;width:1000px;text-align:center;">2-0</div>
<div style="top:564.87px;font-size:16px;line-height:16px;color:#111;font-family:'Liberation Serif',serif;font-weight:bold;letter-spacing:0.8px;-webkit-text-stroke:0.2px #111;right:909.65px;text-align:right;transform:scale(1.1,1);transform-origin:right 13.53px;">7.3</div>
<div style="top:589.67px;font-size:16px;line-height:16px;color:#111;font-family:'Liberation Serif',serif;font-weight:bold;letter-spacing:0.8px;-webkit-text-stroke:0.2px #111;right:909.65px;text-align:right;transform:scale(1.1,1);transform-origin:right 13.53px;">21</div>
<div style="top:535.30px;font-size:15px;line-height:15px;color:#404040;left:-247.59px;width:1000px;text-align:center;">2-1</div>
<div style="top:564.87px;font-size:16px;line-height:16px;color:#111;font-family:'Liberation Serif',serif;font-weight:bold;letter-spacing:0.8px;-webkit-text-stroke:0.2px #111;right:812.29px;text-align:right;transform:scale(1.1,1);transform-origin:right 13.53px;">12</div>
<div style="top:589.67px;font-size:16px;line-height:16px;color:#111;font-family:'Liberation Serif',serif;font-weight:bold;letter-spacing:0.8px;-webkit-text-stroke:0.2px #111;right:812.29px;text-align:right;transform:scale(1.1,1);transform-origin:right 13.53px;">19</div>
<div style="top:535.30px;font-size:15px;line-height:15px;color:#404040;left:-150.23px;width:1000px;text-align:center;">3-0</div>
<div style="top:564.87px;font-size:16px;line-height:16px;color:#111;font-family:'Liberation Serif',serif;font-weight:bold;letter-spacing:0.8px;-webkit-text-stroke:0.2px #111;right:714.93px;text-align:right;transform:scale(1.1,1);transform-origin:right 13.53px;">21</div>
<div style="top:589.67px;font-size:16px;line-height:16px;color:#111;font-family:'Liberation Serif',serif;font-weight:bold;letter-spacing:0.8px;-webkit-text-stroke:0.2px #111;right:714.93px;text-align:right;transform:scale(1.1,1);transform-origin:right 13.53px;">95</div>
<div style="top:535.30px;font-size:15px;line-height:15px;color:#404040;left:-52.86px;width:1000px;text-align:center;">3-1</div>
<div style="top:564.87px;font-size:16px;line-height:16px;color:#111;font-family:'Liberation Serif',serif;font-weight:bold;letter-spacing:0.8px;-webkit-text-stroke:0.2px #111;right:617.56px;text-align:right;transform:scale(1.1,1);transform-origin:right 13.53px;">32</div>
<div style="top:589.67px;font-size:16px;line-height:16px;color:#111;font-family:'Liberation Serif',serif;font-weight:bold;letter-spacing:0.8px;-webkit-text-stroke:0.2px #111;right:617.56px;text-align:right;transform:scale(1.1,1);transform-origin:right 13.53px;">88</div>
<div style="top:535.30px;font-size:15px;line-height:15px;color:#404040;left:44.50px;width:1000px;text-align:center;">3-2</div>
<div style="top:564.87px;font-size:16px;line-height:16px;color:#111;font-family:'Liberation Serif',serif;font-weight:bold;letter-spacing:0.8px;-webkit-text-stroke:0.2px #111;right:520.20px;text-align:right;transform:scale(1.1,1);transform-origin:right 13.53px;">95</div>
<div style="top:589.67px;font-size:16px;line-height:16px;color:#111;font-family:'Liberation Serif',serif;font-weight:bold;letter-spacing:0.8px;-webkit-text-stroke:0.2px #111;right:520.20px;text-align:right;transform:scale(1.1,1);transform-origin:right 13.53px;">162</div>
<div style="top:535.30px;font-size:15px;line-height:15px;color:#404040;left:141.86px;width:1000px;text-align:center;">0-0</div>
<div style="top:577.07px;font-size:16px;line-height:16px;color:#111;font-family:'Liberation Serif',serif;font-weight:bold;letter-spacing:0.8px;-webkit-text-stroke:0.2px #111;right:422.84px;text-align:right;transform:scale(1.1,1);transform-origin:right 13.53px;">3.5</div>
<div style="top:535.30px;font-size:15px;line-height:15px;color:#404040;left:239.23px;width:1000px;text-align:center;">1-1</div>
<div style="top:577.07px;font-size:16px;line-height:16px;color:#111;font-family:'Liberation Serif',serif;font-weight:bold;letter-spacing:0.8px;-webkit-text-stroke:0.2px #111;right:325.47px;text-align:right;transform:scale(1.1,1);transform-origin:right 13.53px;">6.2</div>
<div style="top:535.30px;font-size:15px;line-height:15px;color:#404040;left:336.59px;width:1000px;text-align:center;">2-2</div>
<div style="top:577.07px;font-size:16px;line-height:16px;color:#111;font-family:'Liberation Serif',serif;font-weight:bold;letter-spacing:0.8px;-webkit-text-stroke:0.2px #111;right:228.11px;text-align:right;transform:scale(1.1,1);transform-origin:right 13.53px;">30</div>
<div style="top:535.30px;font-size:15px;line-height:15px;color:#404040;left:433.95px;width:1000px;text-align:center;">3-3</div>
<div style="top:577.07px;font-size:16px;line-height:16px;color:#111;font-family:'Liberation Serif',serif;font-weight:bold;letter-spacing:0.8px;-webkit-text-stroke:0.2px #111;right:130.75px;text-align:right;transform:scale(1.1,1);transform-origin:right 13.53px;">230</div>
<div style="top:535.30px;font-size:15px;line-height:15px;color:#404040;left:531.32px;width:1000px;text-align:center;transform:scale(0.87,1);transform-origin:center 12.70px;">AOS</div>
<div style="top:577.07px;font-size:16px;line-height:16px;color:#111;font-family:'Liberation Serif',serif;font-weight:bold;letter-spacing:0.8px;-webkit-text-stroke:0.2px #111;right:33.38px;text-align:right;transform:scale(1.1,1);transform-origin:right 13.53px;">26</div>
<div style="left:9px;top:611px;width:1071px;height:5px;background:#3a7db6;"></div>
<div style="left:40px;top:611px;width:1px;height:5px;background:#2f6797;"></div>
</body></html>
